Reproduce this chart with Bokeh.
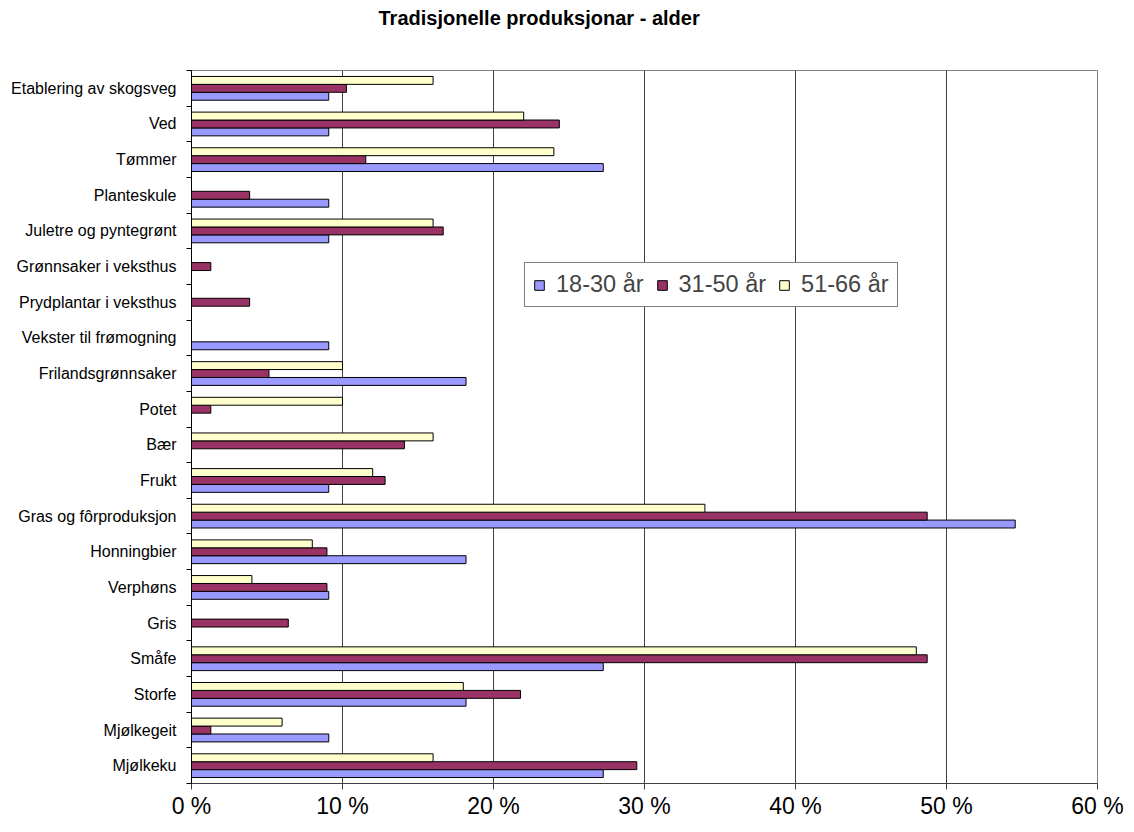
from bokeh.plotting import figure
from bokeh.models import ColumnDataSource, FixedTicker, Legend, LegendItem, Range1d, Title
from bokeh.embed import file_html
from bokeh.resources import INLINE

categories = ["Mjølkeku", "Mjølkegeit", "Storfe", "Småfe", "Gris", "Verphøns",
              "Honningbier", "Gras og fôrproduksjon", "Frukt", "Bær", "Potet",
              "Frilandsgrønnsaker", "Vekster til frømogning", "Prydplantar i veksthus",
              "Grønnsaker i veksthus", "Juletre og pyntegrønt", "Planteskule",
              "Tømmer", "Ved", "Etablering av skogsveg"]
age_18_30 = [27.27, 9.09, 18.18, 27.27, 0, 9.09, 18.18, 54.55, 9.09, 0, 0,
             18.18, 9.09, 0, 0, 9.09, 9.09, 27.27, 9.09, 9.09]
age_31_50 = [29.49, 1.28, 21.79, 48.72, 6.41, 8.97, 8.97, 48.72, 12.82, 14.10, 1.28,
             5.13, 0, 3.85, 1.28, 16.67, 3.85, 11.54, 24.36, 10.26]
age_51_66 = [16, 6, 18, 48, 0, 4, 8, 34, 12, 16, 10,
             10, 0, 0, 0, 16, 0, 24, 22, 16]
series_names = ["18-30 år", "31-50 år", "51-66 år"]
series_colors = ["#9999FF", "#993366", "#FFFFCC"]
x_ticks = [0, 10, 20, 30, 40, 50, 60]
x_tick_labels = ["0 %", "10 %", "20 %", "30 %", "40 %", "50 %", "60 %"]
title_text = "Tradisjonelle produksjonar - alder"

FONT = "Liberation Sans"
n = len(categories)
bar_h = 0.222
offsets = [-bar_h, 0.0, bar_h]

p = figure(width=1126, height=824, output_backend="svg", toolbar_location=None,
           x_range=Range1d(0, 60), y_range=Range1d(0, n),
           min_border_left=191, min_border_right=29, min_border_top=70,
           min_border_bottom=41)

renderers = []
for vals, off, col in zip([age_18_30, age_31_50, age_51_66], offsets, series_colors):
    ys = [i + 0.5 + off for i, v in enumerate(vals) if v > 0]
    xs = [v for v in vals if v > 0]
    src = ColumnDataSource(dict(y=ys, right=xs))
    r = p.hbar(y="y", left=0, right="right", height=bar_h, source=src,
               fill_color=col, line_color="black", line_width=1)
    renderers.append(r)

# x axis
p.xaxis.ticker = FixedTicker(ticks=x_ticks)
p.xaxis.major_label_overrides = {t: l for t, l in zip(x_ticks, x_tick_labels)}
p.xaxis.major_label_text_font = FONT
p.xaxis.major_label_text_font_size = "23px"
p.xaxis.major_label_text_color = "black"
p.xaxis.major_tick_out = 6
p.xaxis.major_tick_in = 0
p.xaxis.minor_tick_out = 0
p.xaxis.axis_line_color = "#404040"
p.xaxis.major_tick_line_color = "#404040"
p.xaxis.major_label_standoff = 3

# y axis
centers = [i + 0.5 for i in range(n)]
p.yaxis.ticker = FixedTicker(ticks=centers, minor_ticks=list(range(n + 1)))
p.yaxis.major_label_overrides = {c: name for c, name in zip(centers, categories)}
p.yaxis.major_label_text_font = FONT
p.yaxis.major_label_text_font_size = "16px"
p.yaxis.major_label_text_color = "black"
p.yaxis.major_tick_out = 0
p.yaxis.major_tick_in = 0
p.yaxis.minor_tick_out = 5
p.yaxis.minor_tick_in = 0
p.yaxis.minor_tick_line_color = "black"
p.yaxis.axis_line_color = "black"
p.yaxis.major_label_standoff = 10

p.xgrid.ticker = FixedTicker(ticks=[10, 20, 30, 40, 50, 60])
p.xgrid.grid_line_color = "#404040"
p.xgrid.grid_line_width = 1
p.ygrid.grid_line_color = None
p.outline_line_color = "#808080"
p.outline_line_width = 1

# spacer between frame and title
spacer = Title(text=" ", text_font=FONT, text_font_size="20px", standoff=11)
p.add_layout(spacer, "above")

# title
p.title.text = title_text
p.title.text_font = FONT
p.title.text_font_size = "20px"
p.title.text_font_style = "bold"
p.title.text_color = "black"
p.title.align = "left"
p.title.offset = 187
p.title.vertical_align = "top"
p.title.standoff = 10

legend = Legend(items=[LegendItem(label=nm, renderers=[r]) for nm, r in zip(series_names, renderers)],
                orientation="horizontal", location=(333, 476))
legend.label_text_font = FONT
legend.label_text_font_size = "23.5px"
legend.glyph_width = 12
legend.glyph_height = 12
legend.label_standoff = 11
legend.spacing = 12
legend.padding = 8
legend.margin = 0
legend.border_line_color = "black"
legend.border_line_width = 1
legend.background_fill_color = "white"
legend.background_fill_alpha = 1
p.add_layout(legend, "center")

open("out.html", "w").write(file_html(p, INLINE))
